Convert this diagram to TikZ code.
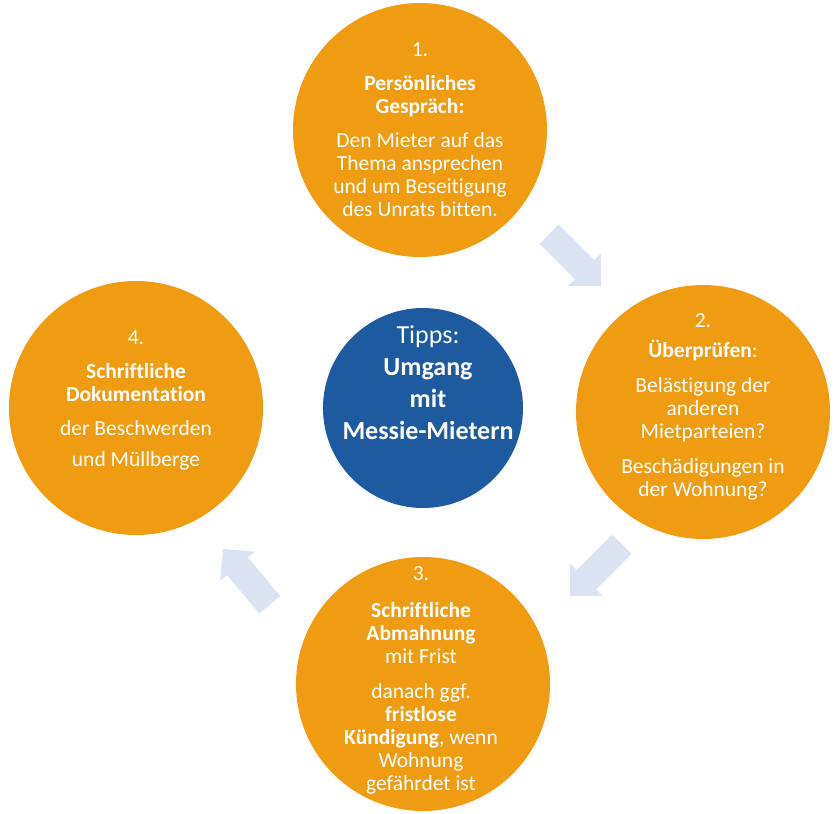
\documentclass[tikz,border=0pt]{standalone}
\usepackage{fontspec}
\setmainfont{Carlito}[Ligatures=NoCommon]
\usetikzlibrary{shapes.arrows}
\definecolor{orng}{RGB}{240,156,18}
\definecolor{hubblue}{RGB}{30,90,160}
\definecolor{arrblue}{RGB}{218,227,242}

\begin{document}
\begin{tikzpicture}[x=1pt,y=-1pt,
 circ/.style={circle,fill=orng,minimum size=254pt,inner sep=0pt},
 hub/.style={circle,fill=hubblue,minimum size=200pt,inner sep=0pt},
 txt/.style={align=center,text=white,font=\fontsize{21.5}{23}\selectfont,inner sep=0pt},
 ar/.style={single arrow,fill=arrblue,inner xsep=0pt,inner ysep=13.5pt,minimum height=73pt,single arrow head extend=9pt,anchor=tail}]
\useasboundingbox (0,0) rectangle (839,814);
% circles
\node[circ] (c1) at (420,130) {};
\node[circ] (c2) at (703,412) {};
\node[circ] (c3) at (423,684) {};
\node[circ] (c4) at (136,408) {};
\node[hub] (hub) at (423,408) {};
% arrows between the steps
\node[ar,rotate=-45] (a1) at (549,234) {};
\node[ar,rotate=-135] (a2) at (622,544) {};
\node[ar,rotate=130] (a3) at (270,605) {};
% texts
\node[txt] (t1) at (c1) {1.\\[11pt]\textbf{Persönliches}\\ \textbf{Gespräch:}\\[11pt]Den Mieter auf das\\Thema ansprechen\\und um Beseitigung\\des Unrats bitten.};
\node[txt] (t2) at ([yshift=5pt]c2.center) {2.\\[7pt]\textbf{Überprüfen}:\\[12pt]Belästigung der\\anderen\\Mietparteien?\\[12pt]Beschädigungen in\\der Wohnung?};
\node[txt] (t3) at ([xshift=-2pt,yshift=4pt]c3.center) {3.\\[14pt]\textbf{Schriftliche}\\ \textbf{Abmahnung}\\mit Frist\\[12pt]danach ggf.\\ \textbf{fristlose}\\ \textbf{Kündigung}, wenn\\Wohnung\\gefährdet ist};
\node[txt] (t4) at ([yshift=8pt]c4.center) {4.\\[11pt]\textbf{Schriftliche}\\ \textbf{Dokumentation}\\[11pt]der Beschwerden\\[8pt]und Müllberge};
\node[txt,font=\fontsize{26}{32}\selectfont] (th) at ([xshift=5pt,yshift=25pt]hub.center) {Tipps:\\ \textbf{Umgang}\\ \textbf{mit}\\ \textbf{Messie-Mietern}};
\end{tikzpicture}
\end{document}
